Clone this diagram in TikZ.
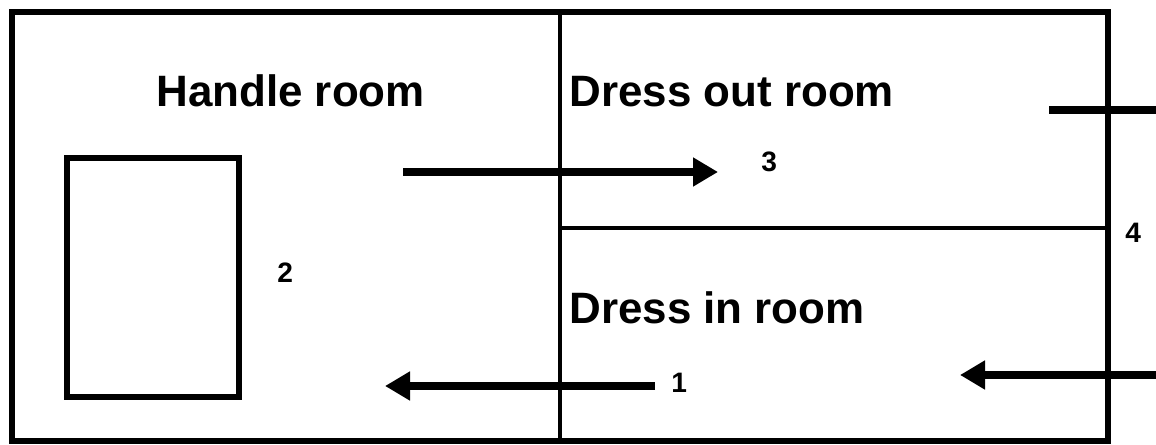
\documentclass[tikz,border=0pt]{standalone}
\usepackage{fontspec}
\setmainfont{Liberation Sans}
\usetikzlibrary{arrows.meta}
\begin{document}
\begin{tikzpicture}[x=0.02cm,y=-0.02cm]
 \tikzstyle{wall}=[line width=3.4pt]
 \tikzstyle{partition}=[line width=2.3pt]
 \tikzstyle{flow}=[line width=4pt,-{Triangle[length=0.5cm,width=0.55cm]}]
 \tikzstyle{roomname}=[font=\fontsize{25}{30}\selectfont\bfseries,inner sep=0pt,anchor=base west]
 \tikzstyle{num}=[font=\fontsize{16}{19}\selectfont\bfseries,inner sep=0pt,anchor=base west]
\useasboundingbox (0,0) rectangle (1156,445);
% walls
\draw[wall] (12,12) rectangle (1108,441);
\draw[partition] (560,12) -- (560,441);
\draw[partition] (560,228) -- (1108,228);
\draw[wall] (67,158) rectangle (239,397);
% rooms
\node (handle)[roomname] at (156,107) {Handle room};
\node (dressout)[roomname] at (569,107) {Dress out room};
\node (dressin)[roomname] at (569,324) {Dress in room};
% route
\coordinate (p3a) at (403,172);
\coordinate (p3b) at (718,172);
\coordinate (p1a) at (655,386);
\coordinate (p1b) at (385,386);
\coordinate (p4a) at (1156,375);
\coordinate (p4b) at (960,375);
\coordinate (s4a) at (1049,110);
\coordinate (s4b) at (1156,110);
\draw[flow] (p3a) -- (p3b);
\draw[flow] (p1a) -- (p1b);
\draw[flow] (p4a) -- (p4b);
\draw[line width=4pt] (s4a) -- (s4b);
\node (n1)[num] at (671,393) {1};
\node (n2)[num] at (277,283) {2};
\node (n3)[num] at (761,172) {3};
\node (n4)[num] at (1125,243) {4};
\end{tikzpicture}
\end{document}
